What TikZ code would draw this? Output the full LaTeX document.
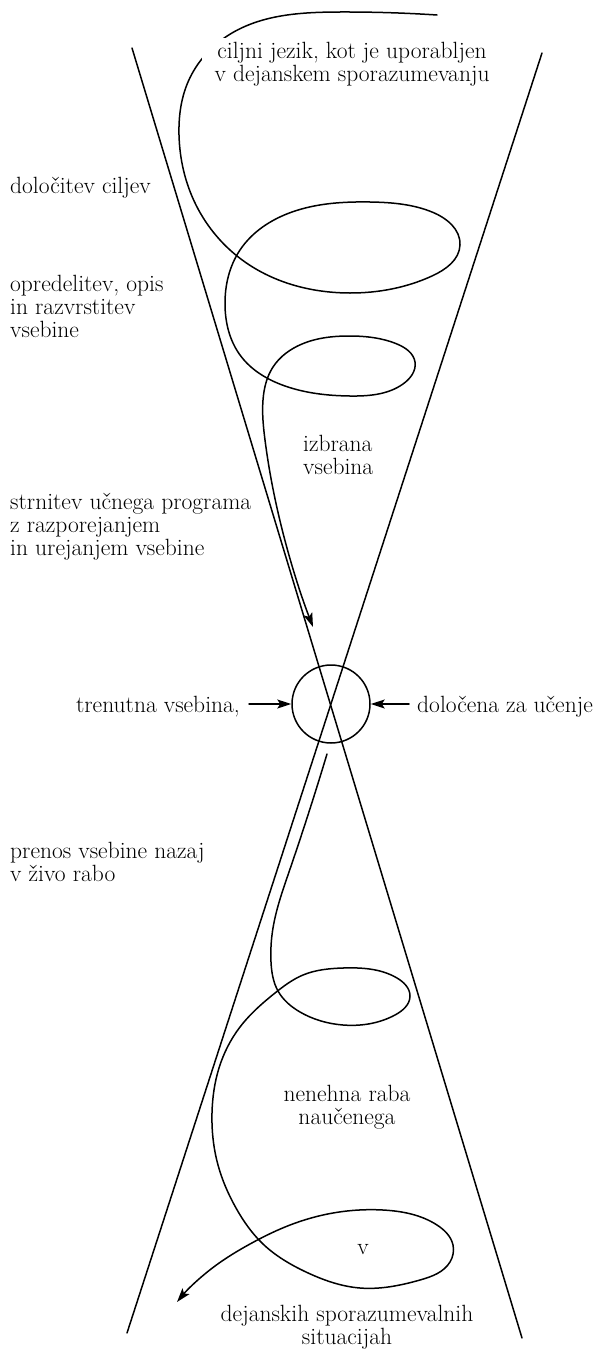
\documentclass[tikz,border=0pt]{standalone}
\usetikzlibrary{arrows.meta,hobby}
% multi-line labels whose baseline is that of the first line
\newcommand{\leftlines}[1]{\begin{tabular}[t]{@{}l@{}}#1\end{tabular}}
\newcommand{\midlines}[1]{\begin{tabular}[t]{@{}c@{}}#1\end{tabular}}
\begin{document}
\begin{tikzpicture}[x=1pt,y=-1pt,
  every node/.style={font=\fontsize{23.5}{23}\selectfont, inner sep=0pt},
  stroke/.style={line width=1.5pt, line cap=round, line join=round},
  tip/.style={-{Stealth[length=14pt,width=9pt,inset=3pt]}},
  lbl/.style={anchor=base west},
  midlbl/.style={anchor=base},
  hub/.style={circle, draw, line width=1.5pt, minimum size=78pt}]
\useasboundingbox (0,0) rectangle (600,1357);

% the two crossing lines of the hourglass
\coordinate (tl) at (132,48);
\coordinate (br) at (522,1338);
\coordinate (tr) at (542,53);
\coordinate (bl) at (127,1333);
\draw[stroke] (tl) -- (br);
\draw[stroke] (tr) -- (bl);

% the narrow waist
\node[hub] (hub) at (331,704) {};

% spiral narrowing down into the waist
\coordinate (s1) at (437,15);
\coordinate (e1) at (313,627);
\draw[stroke, tip, use Hobby shortcut]
  (s1) .. (340,12) .. (232,33) .. (188,82) .. (179,135) .. (196,205)
  .. (245,262) .. (350,293) .. (432,276) .. (460,245) .. (432,212)
  .. (370,202) .. (292,212) .. (240,250) .. (225,305) .. (240,355)
  .. (285,386) .. (350,396) .. (403,384) .. (415,362) .. (397,344)
  .. (350,336) .. (302,344) .. (273,367) .. (263,400) .. (265,440)
  .. (281,525) .. (e1);

% spiral widening out of the waist
\coordinate (s2) at (327,754);
\coordinate (e2) at (177,1302);
\draw[stroke, tip, use Hobby shortcut]
  (s2) .. (289,872) .. (273,928) .. (271,962) .. (278,991) .. (300,1012)
  .. (343,1025) .. (395,1015) .. (410,996) .. (397,978) .. (343,968)
  .. (303,975) .. (275,993) .. (240,1027) .. (219,1068) .. (212,1113)
  .. (218,1165) .. (236,1208) .. (263,1244) .. (306,1272) .. (360,1288)
  .. (420,1280) .. (450,1262) .. (453,1245) .. (437,1225) .. (383,1210)
  .. (333,1213) .. (285,1227) .. (250,1244) .. (215,1266) .. (e2);

% labels
\node[midlbl, fill=white, inner xsep=13pt, inner ysep=4pt] (goal) at (352,58)
  {\midlines{ciljni jezik, kot je uporabljen\\v dejanskem sporazumevanju}};
\node[lbl] (aims) at (10,193) {določitev ciljev};
\node[lbl] (define) at (10,291)
  {\leftlines{opredelitev, opis\\in razvrstitev\\vsebine}};
\node[lbl] (chosen) at (303,451) {\leftlines{izbrana\\vsebina}};
\node[lbl] (syllabus) at (10,509)
  {\leftlines{strnitev učnega programa\\z razporejanjem\\in urejanjem vsebine}};
\node[anchor=base east] (now) at (240,712) {trenutna vsebina,};
\node[lbl] (learn) at (417,712) {določena za učenje};
\node[lbl] (transfer) at (10,858) {\leftlines{prenos vsebine nazaj\\v živo rabo}};
\node[midlbl] (use) at (347,1101) {\midlines{nenehna raba\\naučenega}};
\node[midlbl] (in) at (363,1254) {v};
\node[midlbl] (real) at (347,1321)
  {\midlines{dejanskih sporazumevalnih\\situacijah}};

% arrows pressing in on the waist
\coordinate (nowtip) at (249,704);
\coordinate (learntip) at (409,704);
\draw[stroke, tip] (nowtip) -- (hub.west);
\draw[stroke, tip] (learntip) -- (hub.east);
\end{tikzpicture}
\end{document}
